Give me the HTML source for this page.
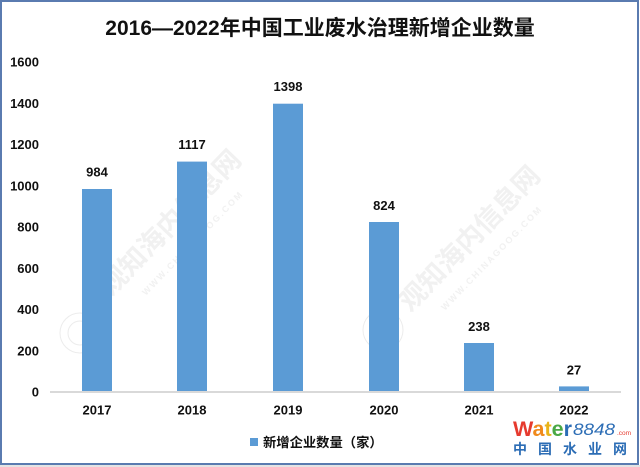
<!DOCTYPE html>
<html><head><meta charset="utf-8"><style>
html,body{margin:0;padding:0;background:#fff;}
svg{display:block;}
text{font-family:"Liberation Sans","Noto Sans CJK SC",sans-serif;}
</style></head><body>
<svg width="640" height="467" viewBox="0 0 640 467" xmlns="http://www.w3.org/2000/svg">
<rect x="0" y="0" width="640" height="467" fill="#fff"/>
<!-- watermarks -->
<g fill="none" stroke="#ececec" stroke-width="1">
  <circle cx="80" cy="333" r="20"/><circle cx="80" cy="333" r="12"/>
  <circle cx="383" cy="330" r="20"/><circle cx="383" cy="330" r="12"/>
</g>
<g fill="#f1f1f1" font-weight="bold">
  <text x="170" y="232" font-size="27" text-anchor="middle" transform="rotate(-46 170 222)">观知海内信息网</text>
  <text x="469" y="248" font-size="27" text-anchor="middle" transform="rotate(-46 469 238)">观知海内信息网</text>
  <text x="195" y="245" font-size="9" text-anchor="middle" letter-spacing="2" transform="rotate(-46 195 245)">WWW.CHINAGOOG.COM</text>
  <text x="494" y="260" font-size="9" text-anchor="middle" letter-spacing="2" transform="rotate(-46 494 260)">WWW.CHINAGOOG.COM</text>
</g>
<!-- border -->
<rect x="1" y="1" width="637" height="463" fill="none" stroke="#5a7bb0" stroke-width="2"/>
<line x1="0" y1="466" x2="640" y2="466" stroke="#e4e4e4" stroke-width="2"/>
<!-- title -->
<text x="320" y="35" font-size="21" font-weight="bold" text-anchor="middle" fill="#111">2016—2022年中国工业废水治理新增企业数量</text>
<!-- y axis labels -->
<g font-size="13" font-weight="bold" text-anchor="end" fill="#111">
  <text x="39" y="66.5">1600</text>
  <text x="39" y="107.8">1400</text>
  <text x="39" y="149">1200</text>
  <text x="39" y="190.3">1000</text>
  <text x="39" y="231.5">800</text>
  <text x="39" y="272.8">600</text>
  <text x="39" y="314">400</text>
  <text x="39" y="355.3">200</text>
  <text x="39" y="396.5">0</text>
</g>
<!-- bars -->
<g fill="#5b9bd5">
  <rect x="82" y="189" width="30" height="203"/>
  <rect x="177" y="161.6" width="30" height="230.4"/>
  <rect x="273" y="103.7" width="30" height="288.3"/>
  <rect x="369" y="222" width="30" height="170"/>
  <rect x="464" y="343" width="30" height="49"/>
  <rect x="559" y="386.4" width="30" height="5.6"/>
</g>
<line x1="50" y1="392" x2="621" y2="392" stroke="#d9d9d9" stroke-width="2"/>
<!-- value labels -->
<g font-size="13" font-weight="bold" text-anchor="middle" fill="#111">
  <text x="97" y="176.5">984</text>
  <text x="192" y="149">1117</text>
  <text x="288" y="91">1398</text>
  <text x="384" y="210">824</text>
  <text x="479" y="331">238</text>
  <text x="574" y="374.5">27</text>
</g>
<!-- x labels -->
<g font-size="13" font-weight="bold" text-anchor="middle" fill="#111">
  <text x="97" y="414.5">2017</text>
  <text x="192" y="414.5">2018</text>
  <text x="288" y="414.5">2019</text>
  <text x="384" y="414.5">2020</text>
  <text x="479" y="414.5">2021</text>
  <text x="574" y="414.5">2022</text>
</g>
<!-- legend -->
<rect x="250" y="438" width="8" height="8" fill="#5b9bd5"/>
<text x="263" y="447" font-size="13.3" font-weight="bold" fill="#111">新增企业数量（家）</text>
<!-- logo -->
<text x="513" y="436" font-weight="bold" font-size="21" textLength="59" lengthAdjust="spacingAndGlyphs"><tspan fill="#e63a2e">W</tspan><tspan fill="#f08a1c">a</tspan><tspan fill="#e9b41a">t</tspan><tspan fill="#4aa845">e</tspan><tspan fill="#2c6db5">r</tspan></text>
<text x="573" y="435" font-family="Liberation Serif, serif" font-style="italic" font-size="17" fill="#2c6db5" textLength="42" lengthAdjust="spacingAndGlyphs">8848</text>
<text x="617" y="435" font-size="6.5" fill="#e63a2e">.com</text>
<text x="513" y="454" font-size="14" font-weight="bold" fill="#2c6db5" letter-spacing="11">中国水业网</text>
</svg>
</body></html>
